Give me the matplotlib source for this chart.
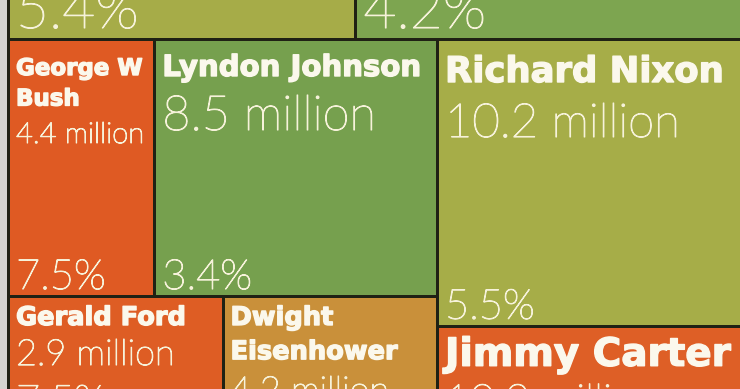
import matplotlib.pyplot as plt
import matplotlib.patheffects as pe
from matplotlib.patches import Rectangle

# top strip: names fall outside the crop, only the rates show
top_rates = ["5.4%", "4.2%"]
top_colors = ["#a6ac48", "#7da550"]
top_share = [0.474, 0.526]

names = ["George W\nBush", "Lyndon Johnson", "Richard Nixon",
         "Gerald Ford", "Dwight\nEisenhower", "Jimmy Carter"]
jobs = [4.4, 8.5, 10.2, 2.9, 4.2, 10.3]          # million jobs
rates = ["7.5%", "3.4%", "5.5%", "7.5%", "", ""]
colors = ["#df5a23", "#76a04e", "#a6ad48", "#de5d24", "#c9903a", "#de5f26"]

# text styling per cell: name/value/rate size, baseline offsets from cell top
name_pt = [16.5, 21, 25.5, 18.5, 18.5, 28]
value_pt = [21, 35, 34, 26, 26, 31]
rate_pt = [30, 30, 30, 30, 30, 30]
name_dy = [36, 37, 43, 29, 29, 40]
value_dy = [104, 91, 98, 69, 106, 89]
rate_pad = [7, 7, 7, -3, 7, 7]

# layout scale
K = 8547.0            # px^2 per million jobs
X0, Y0 = 8, 39        # left frame edge, bottom of the top strip
LEFT_W, RIGHT_W = 429, 304
FORD_SHARE = 0.5
TOP_H = 150

EDGE = "#1f2114"
TXT = "#f6f2da"
PX = 72 / 100


def treemap_cells():
    cells = []
    # middle-left row: Bush | Johnson
    row = jobs[0] + jobs[1]
    h = row * K / LEFT_W
    x = X0
    for i in (0, 1):
        w = LEFT_W * jobs[i] / row
        cells.append((i, x, Y0, w, h))
        x += w
    y_low = Y0 + h
    # bottom-left: Ford | Eisenhower
    x = X0
    for i, share in ((3, FORD_SHARE), (4, 1 - FORD_SHARE)):
        w = LEFT_W * share
        cells.append((i, x, y_low, w, jobs[i] * K / w))
        x += w
    # right column: Nixon over Carter
    xr = X0 + LEFT_W
    hn = jobs[2] * K / RIGHT_W
    cells.append((2, xr, Y0, RIGHT_W, hn))
    cells.append((5, xr, Y0 + hn, RIGHT_W, jobs[5] * K / RIGHT_W))
    return cells


fig = plt.figure(figsize=(7.4, 3.89), dpi=100)
ax = fig.add_axes([0, 0, 1, 1])
ax.set_xlim(0, 740)
ax.set_ylim(389, 0)
ax.set_facecolor("#d4d4d0")
ax.axis("off")
fig.patch.set_facecolor("#d4d4d0")

name_font = dict(family=["DejaVu Sans"], weight="bold", color="#fbf8ec",
                 path_effects=[pe.withStroke(linewidth=1.0, foreground="#fbf8ec")])
value_font = dict(family=["Lato", "DejaVu Sans"], weight="light", color=TXT,
                  path_effects=[pe.withStroke(linewidth=0.8, foreground=TXT)])

# top strip
x = X0
total_w = LEFT_W + RIGHT_W
for rate, col, share in zip(top_rates, top_colors, top_share):
    w = total_w * share
    ax.add_patch(Rectangle((x, Y0 - TOP_H), w, TOP_H, facecolor=col,
                           edgecolor=EDGE, lw=3 * PX))
    ax.text(x + 8, Y0 - 11, rate, fontsize=41, va="baseline",
            clip_on=True, **value_font)
    x += w

for i, cx, cy, w, h in treemap_cells():
    ax.add_patch(Rectangle((cx, cy), w, h, facecolor=colors[i],
                           edgecolor=EDGE, lw=3 * PX))
    tx = cx + 8
    lines = names[i].split("\n")
    pitch = name_pt[i] / PX * 1.33
    for k, line in enumerate(lines):
        ax.text(tx, cy + name_dy[i] + k * pitch, line, fontsize=name_pt[i],
                va="baseline", clip_on=True, **name_font)
    ax.text(tx, cy + value_dy[i], f"{jobs[i]:.1f} million",
            fontsize=value_pt[i], va="baseline", clip_on=True, **value_font)
    if rates[i]:
        ax.text(tx, cy + h - rate_pad[i], rates[i], fontsize=rate_pt[i],
                va="baseline", clip_on=True, **value_font)

fig.savefig("out.png", dpi=100)
